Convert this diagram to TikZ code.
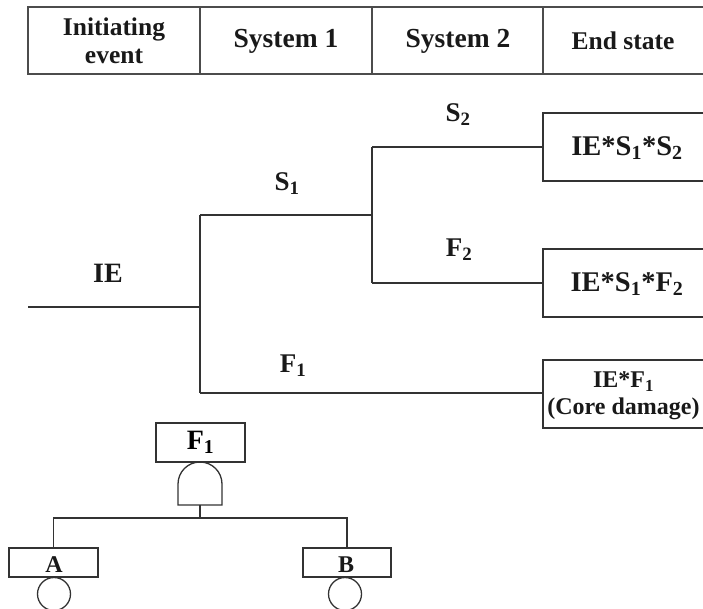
\documentclass[tikz,border=0pt]{standalone}
\usepackage{fontspec}
\setmainfont{Liberation Serif}
\newcommand{\fsz}[1]{\bfseries\fontsize{#1}{#1}\selectfont}
\newcommand{\sbs}[1]{\textsubscript{#1}}
\begin{document}
\begin{tikzpicture}[x=1pt,y=-1pt,
  ln/.style={line width=1.3pt, draw=black!80},
  hdr/.style={line width=1.6pt, draw=black!70},
  txt/.style={inner sep=0pt, align=center, text=black!90},
  endbox/.style={ln, rectangle, minimum width=180pt, minimum height=68pt, inner sep=0pt},
  ftbox/.style={ln, rectangle, inner sep=0pt},
  ctext/.style={txt, font=\fsz{27}}]
\useasboundingbox (0,0) rectangle (703,608);
\clip (0,0) rectangle (703,608);
% header table
\draw[hdr] (712,7) -- (28,7) -- (28,74) -- (712,74);
\draw[hdr] (200,7) -- (200,74);
\draw[hdr] (372,7) -- (372,74);
\draw[hdr] (543,7) -- (543,74);
\node[txt, font=\bfseries\fontsize{25.5}{28}\selectfont] (h1) at (114,41) {Initiating\\event};
\node[txt, font=\fsz{27.5}] (h2) at (286,41) {System 1};
\node[txt, font=\fsz{27.5}] (h3) at (458,41) {System 2};
\node[txt, font=\fsz{25.5}] (h4) at (623,41) {End state};
% end state boxes
\node[endbox] (es1) at (633,147) {};
\node[endbox] (es2) at (633,283) {};
\node[endbox] (es3) at (633,394) {};
\node[ctext, font=\fsz{28.5}] (es1t) at (627,148) {IE*S\sbs{1}*S\sbs{2}};
\node[ctext, font=\fsz{28.5}] (es2t) at (627,284) {IE*S\sbs{1}*F\sbs{2}};
\node[txt, font=\bfseries\fontsize{24}{27}\selectfont] (es3t) at (623.5,396) {IE*F\sbs{1}\\(Core damage)};
% event tree
\coordinate (ie0) at (28,307);
\coordinate (n1) at (200,307);
\coordinate (a) at (200,215);
\coordinate (b) at (200,393);
\coordinate (c) at (372,215);
\coordinate (c1) at (372,147);
\coordinate (c2) at (372,283);
\draw[ln] (ie0) -- (n1);
\draw[ln] (a) -- (b);
\draw[ln] (a) -- (c);
\draw[ln] (c1) -- (c2);
\draw[ln] (c1) -- (es1.west |- c1);
\draw[ln] (c2) -- (es2.west |- c2);
\draw[ln] (b) -- (es3.west |- b);
\node[ctext, font=\fsz{28}] (lie) at (108,273) {IE};
\node[ctext] (ls1) at (287,184) {S\sbs{1}};
\node[ctext] (ls2) at (458,115) {S\sbs{2}};
\node[ctext] (lf2) at (459,250) {F\sbs{2}};
\node[ctext] (lf1) at (293,366) {F\sbs{1}};
% fault tree
\node[ftbox, minimum width=89pt, minimum height=39pt, font=\fsz{28}] (ft) at (200.5,442.5) {F\sbs{1}};
\draw[ln] (178,505) -- (178,484) arc[start angle=180, end angle=360, radius=22] -- (222,505) -- cycle;
\coordinate (g) at (200,505);
\coordinate (bar) at (200,518);
\node[ftbox, minimum width=89pt, minimum height=29pt] (A) at (53.5,562.5) {};
\node[ftbox, minimum width=88pt, minimum height=29pt] (B) at (347,562.5) {};
\node[txt, font=\fsz{24}] (At) at (54,565) {A};
\node[txt, font=\fsz{24}] (Bt) at (346,565) {B};
\draw[ln] (g) -- (bar);
\draw[ln] (A.north) |- (bar) -| (B.north);
\node[ln, circle, minimum size=33pt, inner sep=0pt] (ca) at (54,594) {};
\node[ln, circle, minimum size=33pt, inner sep=0pt] (cb) at (345,594) {};
\end{tikzpicture}
\end{document}
